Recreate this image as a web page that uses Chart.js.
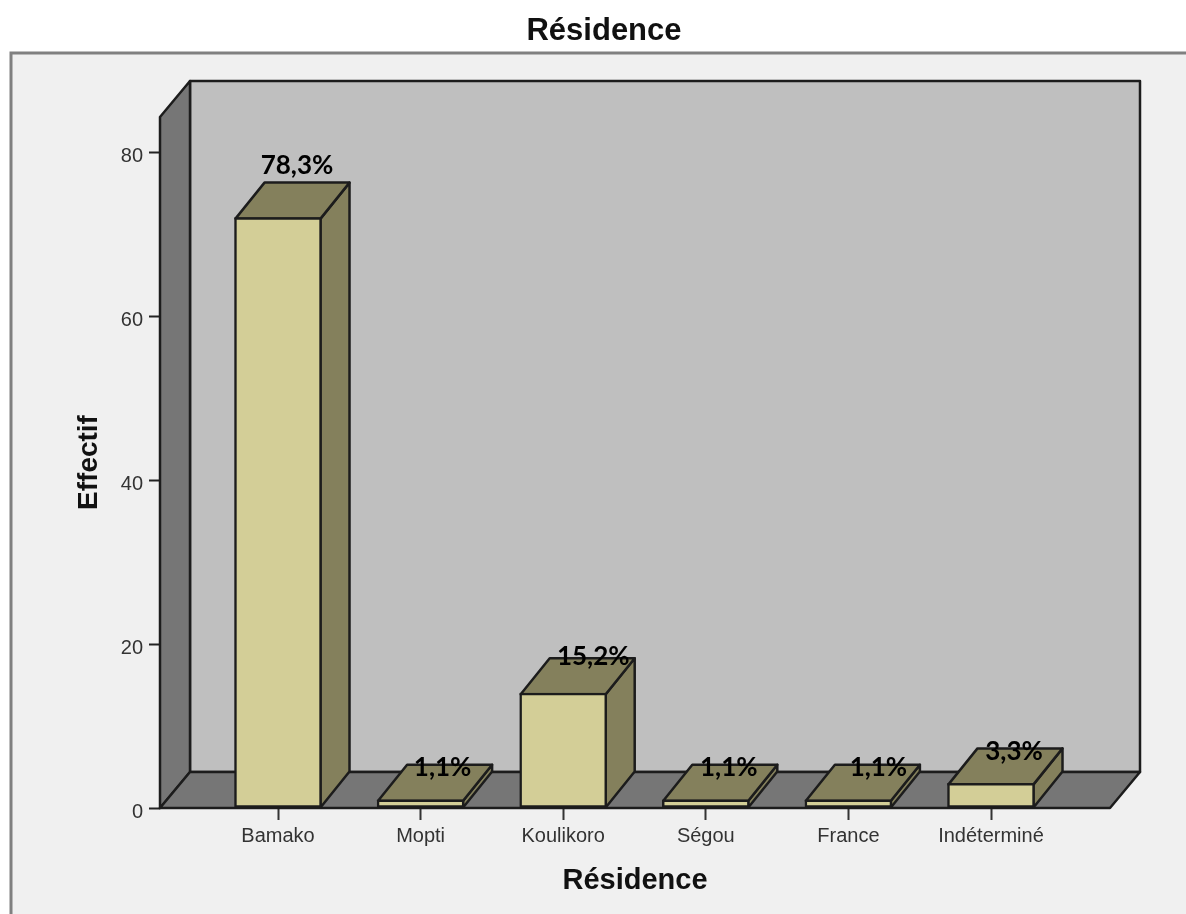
<!DOCTYPE html>
<html lang="fr">
<head>
<meta charset="utf-8">
<title>Résidence</title>
<script src="https://cdn.jsdelivr.net/npm/chart.js@4/dist/chart.umd.min.js"></script>
<style>
  html, body { margin: 0; padding: 0; background: #fff; }
  canvas { display: block; }
</style>
</head>
<body>
<canvas id="chart" width="1186" height="914"></canvas>
<script>
// Effectifs par lieu de résidence (n = 92)
const categories = ['Bamako', 'Mopti', 'Koulikoro', 'Ségou', 'France', 'Indéterminé'];
const counts = [72, 1, 14, 1, 1, 3];
const percentLabels = ['78,3%', '1,1%', '15,2%', '1,1%', '1,1%', '3,3%'];
const yTicks = [0, 20, 40, 60, 80];

// Hand placement of the percentage labels, relative to each bar's front top centre
const labelShiftX = [19, 22, 30, 23, 30, 23];
const labelShiftY = [-52, -32, -37, -32, -32, -32];

const DEPTH_X = 30, DEPTH_Y = 36;
const C = {
  page: '#f0f0f0', frame: '#808080', wall: '#bfbfbf', wallDark: '#767676',
  barFront: '#d3ce97', barShade: '#84805c', line: '#1c1c1c', text: '#333333'
};

function poly(ctx, pts, fill) {
  ctx.beginPath();
  pts.forEach(([x, y], i) => i ? ctx.lineTo(x, y) : ctx.moveTo(x, y));
  ctx.closePath();
  ctx.fillStyle = fill;
  ctx.fill();
  ctx.stroke();
}

const scene3d = {
  id: 'scene3d',
  afterLayout(chart) {
    // Centre the chart title over the framed panel rather than the plot
    chart.titleBlock.left = 22;
    chart.titleBlock.right = chart.width;
  },
  beforeDraw(chart) {
    const { ctx, width, height } = chart;
    ctx.fillStyle = C.page;
    ctx.fillRect(11, 53, width - 11, height - 53);
    ctx.strokeStyle = C.frame;
    ctx.lineWidth = 3;
    ctx.beginPath();
    ctx.moveTo(11, height);
    ctx.lineTo(11, 53);
    ctx.lineTo(width, 53);
    ctx.stroke();
  },
  beforeDatasetsDraw(chart) {
    const { ctx, chartArea: a } = chart;
    const bx = a.left + DEPTH_X, bxr = a.right + DEPTH_X;
    const by = a.top - DEPTH_Y, byb = a.bottom - DEPTH_Y;
    ctx.save();
    ctx.strokeStyle = C.line;
    ctx.lineWidth = 2.5;
    ctx.lineJoin = 'round';
    // Back wall, left wall and floor
    poly(ctx, [[bx, by], [bxr, by], [bxr, byb], [bx, byb]], C.wall);
    poly(ctx, [[a.left, a.top], [bx, by], [bx, byb], [a.left, a.bottom]], C.wallDark);
    poly(ctx, [[a.left, a.bottom], [bx, byb], [bxr, byb], [a.right, a.bottom]], C.wallDark);
    // Top and side faces of each bar
    chart.getDatasetMeta(0).data.forEach(el => {
      const l = el.x - el.width / 2 + 1, r = el.x + el.width / 2 - 1;
      const t = el.y + 1, b = el.base;
      poly(ctx, [[r, t], [r + DEPTH_X - 1, t - DEPTH_Y], [r + DEPTH_X - 1, b - DEPTH_Y], [r, b]], C.barShade);
      poly(ctx, [[l, t], [l + DEPTH_X - 1, t - DEPTH_Y], [r + DEPTH_X - 1, t - DEPTH_Y], [r, t]], C.barShade);
    });
    ctx.restore();
  },
  afterDatasetsDraw(chart) {
    const { ctx } = chart;
    ctx.save();
    ctx.font = 'bold 26px Lato, "Noto Sans", sans-serif';
    ctx.fillStyle = '#000';
    ctx.textAlign = 'center';
    ctx.textBaseline = 'middle';
    chart.getDatasetMeta(0).data.forEach((el, i) => {
      ctx.fillText(percentLabels[i], el.x + labelShiftX[i], el.y + labelShiftY[i]);
    });
    ctx.restore();
  }
};

new Chart(document.getElementById('chart'), {
  type: 'bar',
  plugins: [scene3d],
  data: {
    datasets: [{
      data: counts.map((v, i) => ({ x: i, y: v })),
      backgroundColor: C.barFront,
      borderColor: C.line,
      borderWidth: 2.5,
      borderSkipped: false,
      barThickness: 87
    }]
  },
  options: {
    responsive: false,
    animation: false,
    layout: { padding: { left: 0, right: 76, top: 0, bottom: 0 } },
    plugins: {
      legend: { display: false },
      tooltip: { enabled: false },
      title: {
        display: true,
        text: 'Résidence',
        color: '#111',
        font: { family: '"Liberation Sans"', size: 31, weight: 'bold', lineHeight: 1.2 },
        padding: { top: 12.9, bottom: 66.9 }
      }
    },
    scales: {
      x: {
        type: 'linear',
        offset: false,
        min: -0.8275,
        max: 5.8345,
        afterFit(s) { s.height = 106; },
        afterBuildTicks(s) { s.ticks = categories.map((_, i) => ({ value: i })); },
        border: { display: false },
        grid: { offset: false, drawOnChartArea: false, drawTicks: true, tickLength: 12, tickColor: '#333', tickWidth: 2 },
        ticks: {
          autoSkip: false, maxRotation: 0, minRotation: 0, padding: 4,
          color: C.text,
          font: { family: '"Liberation Sans"', size: 20 },
          callback: v => categories[v]
        },
        title: {
          display: true,
          text: 'Résidence',
          color: '#111',
          font: { family: '"Liberation Sans"', size: 29, weight: 'bold', lineHeight: 1.2 },
          padding: { top: 0, bottom: 15.6 }
        }
      },
      y: {
        min: 0,
        max: 84.27,
        afterFit(s) { s.width = 160; },
        afterBuildTicks(s) { s.ticks = yTicks.map(v => ({ value: v })); },
        border: { display: false },
        grid: { offset: false, drawOnChartArea: false, drawTicks: true, tickLength: 11, tickColor: '#222', tickWidth: 2 },
        ticks: {
          padding: 6, labelOffset: 4, color: C.text,
          font: { family: '"Liberation Sans"', size: 20 }
        },
        title: {
          display: true,
          text: 'Effectif',
          color: '#111',
          font: { family: '"Liberation Sans"', size: 28, weight: 'bold', lineHeight: 1.2 },
          padding: { top: 72.7, bottom: 0 }
        }
      }
    }
  }
});
</script>
</body>
</html>
